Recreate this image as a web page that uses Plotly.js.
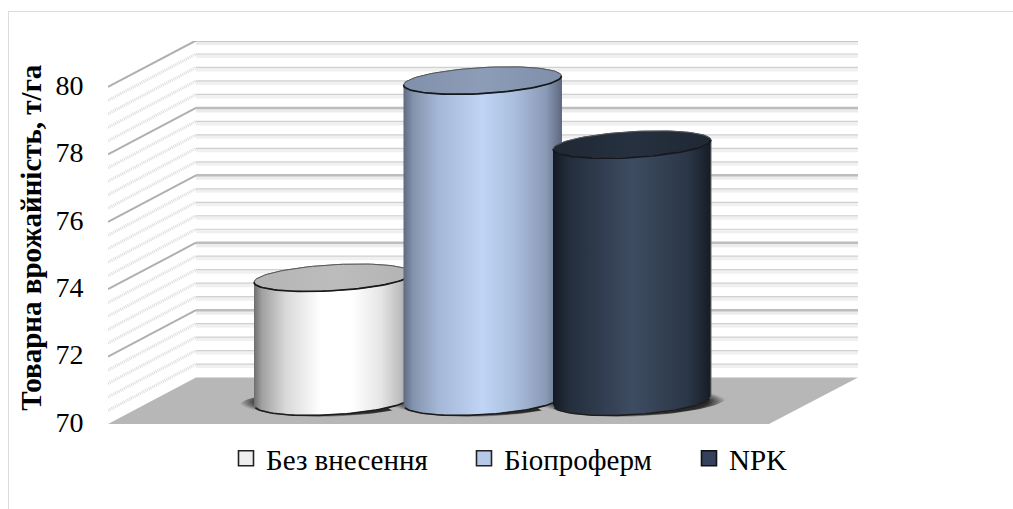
<!DOCTYPE html>
<html>
<head>
<meta charset="utf-8">
<script src="https://cdn.plot.ly/plotly-3.0.1.min.js"></script>
<style>
  html, body { margin: 0; padding: 0; background: #fff; overflow: hidden; width: 1013px; height: 509px; }
  #frame { position: absolute; left: 8px; top: 11px; width: 1100px; height: 600px; border: 1.5px solid #dcdcdc; }
  #chart { position: absolute; left: 0; top: 0; width: 1013px; height: 509px; }
</style>
</head>
<body>
<div id="frame"></div>
<div id="chart"></div>
<script>
// Series
const categories = ['Без внесення', 'Біопроферм', 'NPK'];
const yields = [73.65, 79.5, 77.6];
const tickValues = [70, 72, 74, 76, 78, 80];
const yAxisTitle = 'Товарна врожайність, т/га';

// Scene geometry, in pixels of the figure
const W = 1013, H = 509;
const plot = { left: 108, right: 858, top: 41, bottom: 424.5 };
const pxPerUnit = 33.75;
const barSpacingPx = 149.5, firstBarPx = 333;
const barHalfWidthPx = 79;
const wallOffsetPx = 88, depthRisePx = 46.5;
const floorFrontRightPx = 769;
const midDepth = (depthRisePx / 2) / pxPerUnit;
const fullDepth = depthRisePx / pxPerUnit;
const lidHalfDepthPx = 13;
const baseHalfDepthPx = 14;
const tiltPx = 4.5;

const xPx = px => (px - firstBarPx) / barSpacingPx;
const xLeft = xPx(plot.left), xRight = xPx(plot.right);
const xWall = xPx(plot.left + wallOffsetPx);
const yTop = 70 + (plot.bottom - plot.top) / pxPerUnit;

// Bar colouring
const bodyScales = [
  [[0,'#6e6e6e'],[0.05,'#a0a0a0'],[0.2,'#d8d8d8'],[0.42,'#ffffff'],[0.62,'#ffffff'],[0.8,'#e6e6e6'],[0.93,'#bcbcbc'],[1,'#858585']],
  [[0,'#5f6a80'],[0.06,'#8393ae'],[0.22,'#a5b7d6'],[0.5,'#c0d4f5'],[0.7,'#aabede'],[0.9,'#8a9ab6'],[1,'#5f6a80']],
  [[0,'#141a24'],[0.1,'#232d3b'],[0.5,'#3e4c62'],[0.85,'#2b3747'],[1,'#161c26']]
];
const lidScales = [
  [[0,'#b4b4b4'],[0.5,'#bcbcbc'],[1,'#b4b4b4']],
  [[0,'#8090ab'],[0.5,'#8d9db8'],[1,'#7f8faa']],
  [[0,'#1f2833'],[0.5,'#263140'],[1,'#1f2833']]
];
const swatchColors = ['#eeeeee', '#b7c9e8', '#33415a'];
const swatchEdges = ['#222222', '#222222', '#111111'];

// Sampled ellipse around a bar axis, sheared so the right end sits higher
function ellipse(cx, cyAxis, halfDepthPx, from, to, n) {
  const xs = [], ys = [];
  for (let k = 0; k <= n; k++) {
    const t = from + (to - from) * k / n;
    const u = Math.cos(t), v = Math.sin(t);
    xs.push(cx + u * barHalfWidthPx / barSpacingPx);
    ys.push(cyAxis + (v * halfDepthPx + u * tiltPx) / pxPerUnit);
  }
  return { xs, ys };
}

const traces = [];

// Floor
traces.push({
  x: [xLeft, xWall, xRight, xPx(floorFrontRightPx), xLeft],
  y: [70, 70 + fullDepth, 70 + fullDepth, 70, 70],
  mode: 'lines', fill: 'toself', fillcolor: '#b7b7b7',
  line: { width: 0 }, showlegend: false, hoverinfo: 'skip'
});

// Walls: a light band under every back-wall line, the line itself, and the oblique side-wall run
const minorLevels = [], majorLevels = [];
for (let i = 1; i <= 25; i++) {
  const level = 70 + i * 0.4;
  (i % 5 === 0 ? majorLevels : minorLevels).push(level);
}
function runs(levels, xa, xb, ya, yb) {
  const xs = [], ys = [];
  levels.forEach(l => { xs.push(xa, xb, null); ys.push(l + ya, l + yb, null); });
  return { x: xs, y: ys };
}
const band = 2 / pxPerUnit;
const wallStyles = [
  [runs(minorLevels, xWall, xRight, fullDepth - band, fullDepth - band), { color: '#f0f0f0', width: 4 }],
  [runs(majorLevels, xWall, xRight, fullDepth - band, fullDepth - band), { color: '#ececec', width: 5 }],
  [runs(minorLevels, xWall, xRight, fullDepth, fullDepth), { color: '#d0d0d0', width: 1.2 }],
  [runs(majorLevels, xWall, xRight, fullDepth, fullDepth), { color: '#bdbdbd', width: 2.5 }],
  [runs(minorLevels, xLeft, xWall, 0, fullDepth), { color: '#dcdcdc', width: 3, dash: '1px,1px' }],
  [runs(majorLevels, xLeft, xWall, 0, fullDepth), { color: '#b0b0b0', width: 2 }]
];
wallStyles.forEach(([pts, line]) => traces.push({
  x: pts.x, y: pts.y, mode: 'lines', line, showlegend: false, hoverinfo: 'skip'
}));

// Contact shadows under the bars
categories.forEach((name, i) => {
  const e = ellipse(i, 70 + midDepth - 1 / pxPerUnit, 15, 0, 2 * Math.PI, 72);
  const xs = e.xs.map(x => i + (x - i) * 1.2);
  traces.push({
    x: xs, y: e.ys, mode: 'lines', fill: 'toself', line: { width: 0 },
    fillgradient: { type: 'radial', colorscale: [[0,'#262626'],[0.8,'#2a2a2a'],[0.9,'#707070'],[1,'#b7b7b7']] },
    showlegend: false, hoverinfo: 'skip'
  });
});

// Cylinders, back to front by drawing order
categories.forEach((name, i) => {
  const lidY = yields[i] + midDepth, baseY = 70 + midDepth;
  const front = ellipse(i, baseY, baseHalfDepthPx, Math.PI, 2 * Math.PI, 48);
  const back = ellipse(i, lidY, lidHalfDepthPx, 0, Math.PI, 48);
  traces.push({
    x: front.xs.concat(back.xs), y: front.ys.concat(back.ys),
    mode: 'lines', fill: 'toself', name,
    fillgradient: { type: 'horizontal', colorscale: bodyScales[i] },
    line: { color: '#6a6a6a', width: 1 }, showlegend: false, hoverinfo: 'skip'
  });
  const bottom = ellipse(i, baseY, baseHalfDepthPx, Math.PI * 1.06, Math.PI * 1.94, 48);
  traces.push({
    x: bottom.xs, y: bottom.ys, mode: 'lines',
    line: { color: '#1c1c1c', width: 1.6 }, showlegend: false, hoverinfo: 'skip'
  });
  const lid = ellipse(i, lidY, lidHalfDepthPx, 0, 2 * Math.PI, 96);
  traces.push({
    x: lid.xs, y: lid.ys, mode: 'lines', fill: 'toself',
    fillgradient: { type: 'horizontal', colorscale: lidScales[i] },
    line: { color: '#555a60', width: 1 }, showlegend: false, hoverinfo: 'skip'
  });
  const lip = ellipse(i, lidY, lidHalfDepthPx, Math.PI, 2 * Math.PI, 48);
  traces.push({
    x: lip.xs, y: lip.ys, mode: 'lines',
    line: { color: '#15181c', width: 1.7 }, showlegend: false, hoverinfo: 'skip'
  });
});

// Legend keys
const legendTextPx = [266, 504, 729];
const legendMidPx = 459;
const legends = {};
categories.forEach((name, i) => {
  const id = i === 0 ? 'legend' : 'legend' + (i + 1);
  traces.push({
    x: [null], y: [null], mode: 'markers', name, legend: id, showlegend: true,
    marker: { symbol: 'square', size: 15, color: swatchColors[i], line: { color: swatchEdges[i], width: 1.6 } }
  });
  legends[id] = {
    x: (legendTextPx[i] - 40 - plot.left) / (plot.right - plot.left),
    y: (plot.bottom - legendMidPx) / (plot.bottom - plot.top),
    xanchor: 'left', yanchor: 'middle', bgcolor: 'rgba(0,0,0,0)', borderwidth: 0,
    font: { family: 'Liberation Serif, serif', size: 29, color: '#000' }
  };
});

const layout = Object.assign({
  width: W, height: H,
  margin: { l: plot.left, r: W - plot.right, t: plot.top, b: H - plot.bottom, autoexpand: false },
  paper_bgcolor: 'rgba(0,0,0,0)', plot_bgcolor: 'rgba(0,0,0,0)',
  xaxis: { visible: false, range: [xLeft, xRight], fixedrange: true },
  yaxis: {
    range: [70, yTop], tickmode: 'array', tickvals: tickValues, ticktext: tickValues.map(String),
    showgrid: false, zeroline: false, showline: false, fixedrange: true,
    ticks: 'outside', ticklen: 18, tickcolor: 'rgba(0,0,0,0)', ticklabelshift: -2,
    tickfont: { family: 'Liberation Serif, serif', size: 28, color: '#000' }
  },
  annotations: [{
    text: '<b>' + yAxisTitle + '</b>', textangle: -90, showarrow: false,
    xref: 'paper', yref: 'paper', xanchor: 'center', yanchor: 'middle',
    x: (31 - plot.left) / (plot.right - plot.left),
    y: (plot.bottom - 238) / (plot.bottom - plot.top),
    font: { family: 'Liberation Serif, serif', size: 29, color: '#000' }
  }],
  showlegend: true
}, legends);

Plotly.newPlot('chart', traces, layout, { displayModeBar: false, staticPlot: true });
</script>
</body>
</html>
